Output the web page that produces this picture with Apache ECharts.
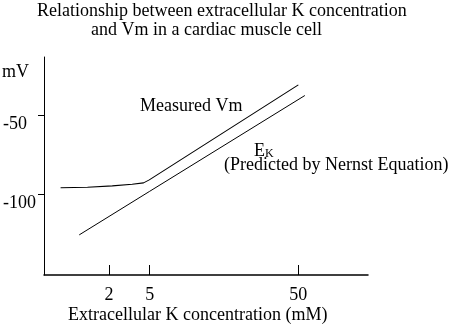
<!DOCTYPE html>
<html>
<head>
<meta charset="utf-8">
<style>
  html, body { margin: 0; padding: 0; background: #fff; }
  #chart { width: 451px; height: 327px; }
</style>
<script src="https://cdn.jsdelivr.net/npm/echarts@6/dist/echarts.min.js"></script>
</head>
<body>
<div id="chart"></div>
<script>
// Extracellular K (mM) and membrane potential (mV)
const measuredK  = [0.67, 1.23, 2.15, 3.37, 4.35, 4.95, 50];
const measuredVm = [-96.0, -95.7, -94.8, -93.8, -92.9, -91.0, -31.1];
const nernstK    = [1.02, 5, 55.3];
const nernstEk   = [-125.7, -98.2, -37.8];
const xTickK     = [2, 5, 50];
const yTickMv    = [-50, -100];

// The K axis is logarithmic above 5 mM and drawn compressed below it.
const LOG5 = Math.log10(5);
const LOW_SCALE = 0.687;
function kToAxis(k) {
  const l = Math.log10(k);
  return l >= LOG5 ? l : LOG5 - (LOG5 - l) * LOW_SCALE;
}

const FONT = '"Liberation Serif", "Times New Roman", serif';
const FS = 18;
const xTickPos = xTickK.map(kToAxis);

const chart = echarts.init(document.getElementById('chart'), null, { renderer: 'canvas' });

chart.setOption({
  animation: false,
  backgroundColor: '#ffffff',
  title: [
    {
      text: 'Relationship between extracellular K concentration',
      left: 32, top: -3,
      textStyle: { fontFamily: FONT, fontSize: FS, fontWeight: 'normal', color: '#000' }
    },
    {
      text: 'and Vm in a cardiac muscle cell',
      left: 86, top: 16,
      textStyle: { fontFamily: FONT, fontSize: FS, fontWeight: 'normal', color: '#000' }
    }
  ],
  grid: { left: 41, right: 83, top: 57, bottom: 52, containLabel: false },
  xAxis: {
    type: 'value',
    min: -0.0123,
    max: 2.1677,
    splitLine: { show: false },
    axisLine: { show: true, onZero: false, lineStyle: { color: '#000', width: 1.5 } },
    axisTick: { show: true, inside: true, length: 10, customValues: xTickPos, lineStyle: { color: '#000', width: 1 } },
    axisLabel: {
      show: true, customValues: xTickPos, margin: 11,
      fontFamily: FONT, fontSize: FS, color: '#000',
      formatter: function (v) {
        let best = 0;
        xTickPos.forEach(function (p, i) { if (Math.abs(p - v) < Math.abs(xTickPos[best] - v)) best = i; });
        return String(xTickK[best]);
      }
    }
  },
  yAxis: {
    type: 'value',
    min: -151,
    max: -13.5,
    splitLine: { show: false },
    axisLine: { show: true, onZero: false, lineStyle: { color: '#000', width: 1 } },
    axisTick: { show: true, length: 6, customValues: yTickMv, lineStyle: { color: '#000', width: 1 } },
    axisLabel: {
      show: true, customValues: yTickMv, margin: 41, align: 'left', verticalAlign: 'top',
      fontFamily: FONT, fontSize: FS, color: '#000'
    }
  },
  graphic: [
    { type: 'text', left: 2, top: 63, style: { text: 'mV', font: FS + 'px ' + FONT, fill: '#000' } },
    { type: 'text', left: 140, top: 97, style: { text: 'Measured Vm', font: FS + 'px ' + FONT, fill: '#000' } },
    {
      type: 'text', left: 254, top: 142,
      style: {
        text: '{e|E}{k|K}',
        rich: {
          e: { fontFamily: FONT, fontSize: FS, fill: '#000' },
          k: { fontFamily: FONT, fontSize: 12, fill: '#000', verticalAlign: 'bottom', padding: [6, 0, 0, 0] }
        }
      }
    },
    { type: 'text', left: 224, top: 156, style: { text: '(Predicted by Nernst Equation)', font: FS + 'px ' + FONT, fill: '#000' } },
    { type: 'text', left: 68, top: 306, style: { text: 'Extracellular K concentration (mM)', font: FS + 'px ' + FONT, fill: '#000' } }
  ],
  series: [
    {
      name: 'Measured Vm',
      type: 'line',
      data: measuredK.map(function (k, i) { return [kToAxis(k), measuredVm[i]]; }),
      showSymbol: false,
      lineStyle: { color: '#000', width: 1.1 }
    },
    {
      name: 'EK',
      type: 'line',
      data: nernstK.map(function (k, i) { return [kToAxis(k), nernstEk[i]]; }),
      showSymbol: false,
      lineStyle: { color: '#000', width: 1 }
    }
  ]
});
</script>
</body>
</html>
